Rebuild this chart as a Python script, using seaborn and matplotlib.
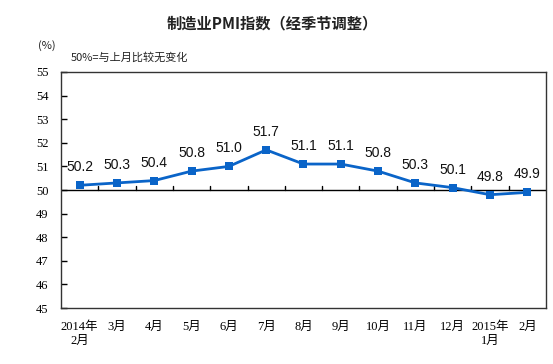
import matplotlib
matplotlib.use("Agg")
import matplotlib.pyplot as plt
import seaborn as sns
import pandas as pd

categories = ["2014年\n2月", "3月", "4月", "5月", "6月", "7月", "8月", "9月",
              "10月", "11月", "12月", "2015年\n1月", "2月"]
pmi = [50.2, 50.3, 50.4, 50.8, 51.0, 51.7, 51.1, 51.1, 50.8, 50.3, 50.1, 49.8, 49.9]
yticks = [45, 46, 47, 48, 49, 50, 51, 52, 53, 54, 55]

sns.set_theme(style="white")
plt.rcParams['font.family'] = ['Noto Sans CJK SC', 'DejaVu Sans']

df = pd.DataFrame({"idx": list(range(len(categories))), "pmi": pmi})

fig = plt.figure(figsize=(5.53, 3.64), dpi=100)
ax = fig.add_axes([0.1103, 0.1538, 0.8770, 0.6484])

sns.lineplot(data=df, x="idx", y="pmi", ax=ax, color="#0A64C8", linewidth=2,
             marker="s", markersize=6, markeredgewidth=0, markeredgecolor="#0A64C8")

ax.set_xlim(-0.5, len(categories) - 0.5)
ax.set_ylim(45, 55)
ax.axhline(50, color="black", linewidth=1, zorder=1)
# tick marks on the 50 line at category boundaries
for b in range(len(categories) - 1):
    ax.plot([b + 0.5, b + 0.5], [50, 50.17], color="black", linewidth=1, zorder=1)

for i, v in enumerate(pmi):
    ax.annotate(f"{v:.1f}", (i, v), xytext=(0, 13), textcoords="offset points",
                ha="center", va="center", fontsize=10,
                family=['Liberation Sans', 'DejaVu Sans'], color="#111111")

ax.set_yticks(yticks)
ax.set_yticklabels([str(t) for t in yticks], family=['Liberation Serif', 'Noto Sans CJK SC'],
                   fontsize=9)
ax.tick_params(axis="y", direction="in", length=4, width=1, left=True, pad=9, colors="black")
ax.set_xticks(range(len(categories)))
ax.set_xticklabels(categories, family=['Liberation Serif', 'Noto Sans CJK SC'], fontsize=9,
                   linespacing=1.3)
ax.tick_params(axis="x", length=0, pad=9, colors="black")
ax.set_xlabel("")
ax.set_ylabel("")
for s in ax.spines.values():
    s.set_color("#333333")
    s.set_linewidth(1)

fig.text(0.493, 0.935, "制造业PMI指数（经季节调整）", ha="center", va="center",
         fontsize=11, fontweight="bold", color="#222222")
fig.text(0.068, 0.875, "(%)", ha="left", va="center", fontsize=8, color="#222222")
fig.text(0.127, 0.843, "50%=与上月比较无变化", ha="left", va="center", fontsize=8,
         color="#222222", family=['Noto Sans CJK SC', 'DejaVu Sans'])

fig.savefig("out.png", dpi=100, facecolor="white")
